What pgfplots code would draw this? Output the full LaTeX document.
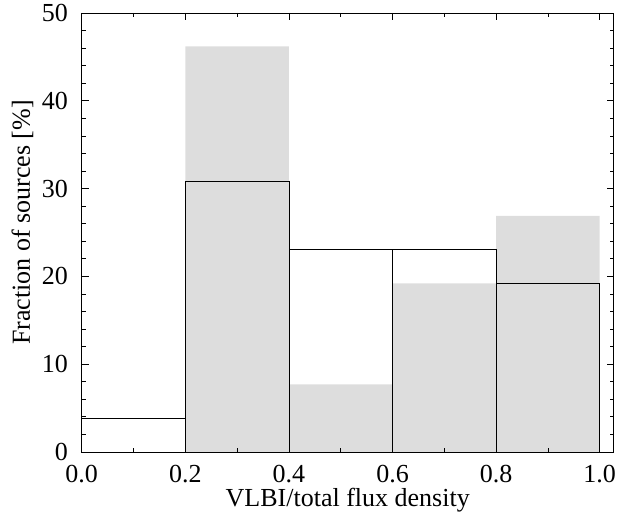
\documentclass[border=0pt]{standalone}
\usepackage{fontspec}
\setmainfont{Liberation Serif}
\usepackage{pgfplots}
\pgfplotsset{compat=1.18}
\definecolor{barfill}{RGB}{221,221,221}
\begin{document}
\fontsize{26}{31}\selectfont
\begin{tikzpicture}
\begin{axis}[
  at={(0pt,0pt)}, anchor=south west,
  scale only axis,
  width=532pt, height=439pt,
  xmin=0, xmax=1.027, ymin=0, ymax=50,
  xtick={0,0.2,0.4,0.6,0.8,1.0},
  ytick={0,10,20,30,40,50},
  minor x tick num=1,
  minor y tick num=4,
  tick align=inside,
  major tick length=7pt,
  minor tick length=4pt,
  tick style={black, line width=0.8pt},
  axis line style={line width=0.9pt},
  xticklabel style={yshift=-4pt, /pgf/number format/fixed, /pgf/number format/fixed zerofill, /pgf/number format/precision=1},
  /pgf/number format/assume math mode=true,
  xlabel={VLBI/total flux density},
  ylabel={Fraction of sources [\%]},
  xlabel style={yshift=12pt},
  ylabel style={yshift=-9pt, xshift=10pt},
  every tick label/.append style={font=\fontsize{26}{31}\selectfont},
  yticklabel style={xshift=-5pt},
  label style={font=\fontsize{26}{31}\selectfont},
  axis on top,
]
% filled histogram
\addplot[ybar interval, fill=barfill, draw=none] coordinates {
  (0.2,46.2) (0.4,7.7) (0.6,19.2) (0.8,26.9) (1.0,26.9)
};
% outlined histogram
\addplot[ybar interval, fill=none, draw=black, line width=0.8pt] coordinates {
  (0.0,3.85) (0.2,30.8) (0.4,23.1) (0.6,23.1) (0.8,19.2) (1.0,19.2)
};
\end{axis}
\pgfresetboundingbox
\useasboundingbox (-81.7pt,-64pt) rectangle (538.3pt,452pt);
\end{tikzpicture}
\end{document}
